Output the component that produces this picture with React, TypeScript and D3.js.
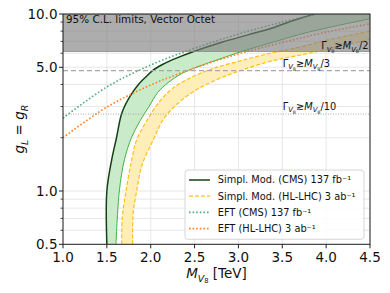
import React from "react";
import * as d3 from "d3";

// ---- data ----
const xTicks = [1.0, 1.5, 2.0, 2.5, 3.0, 3.5, 4.0, 4.5];
const yMajorTicks = [0.5, 1.0, 5.0, 10.0];
const yMinorTicks = [0.6, 0.7, 0.8, 0.9, 2, 3, 4, 6, 7, 8, 9];

// Simplified model (CMS) 137 fb^-1 : band edges
const cmsEdgeM = [1.5, 1.5, 1.555, 1.61, 1.67, 1.76, 1.86, 1.95, 2.02, 2.14, 2.3, 2.49, 2.8, 3.1, 3.36, 3.6, 3.87, 4.2, 4.5];
const cmsEdgeG = [0.5, 1.0, 1.5, 2.0, 2.75, 3.4, 4.0, 4.44, 4.79, 5.2, 5.65, 6.14, 6.9, 7.6, 8.25, 9.1, 10.0, 11.0, 11.8];
const cmsOuterM = [1.604, 1.642, 1.7, 1.78, 1.88, 1.98, 2.08, 2.2, 2.35, 2.52, 2.8, 3.02, 3.36, 3.8, 4.5];
const cmsOuterG = [0.5, 1.0, 1.5, 2.0, 2.5, 3.0, 3.6, 4.1, 4.6, 5.0, 5.6, 6.1, 6.85, 7.9, 9.4];

// Simplified model (HL-LHC) 3 ab^-1 : band edges
const hlEdgeM = [1.669, 1.675, 1.718, 1.783, 1.84, 1.96, 2.1, 2.25, 2.45, 2.7, 3.0, 3.36, 3.7, 4.0, 4.5];
const hlEdgeG = [0.5, 0.7, 1.0, 1.5, 1.95, 2.52, 3.2, 3.8, 4.35, 4.9, 5.4, 6.0, 6.5, 7.1, 8.0];
const hlOuterM = [1.794, 1.8, 1.84, 1.9, 2.03, 2.14, 2.3, 2.52, 2.75, 3.0, 3.36, 3.7, 4.0, 4.5];
const hlOuterG = [0.5, 0.75, 1.0, 1.4, 1.95, 2.52, 3.1, 3.73, 4.25, 4.75, 5.4, 5.85, 6.3, 7.2];

// EFT lines
const eftCmsM = [1.0, 1.5, 2.0, 2.5, 3.0, 3.5, 3.9];
const eftCmsG = [2.58, 3.87, 5.15, 6.4, 7.7, 9.0, 10.05];
const eftHlM = [1.0, 1.5, 2.0, 2.5, 3.0, 3.5, 4.0, 4.5];
const eftHlG = [2.0, 2.98, 3.97, 4.95, 5.95, 6.9, 7.9, 8.8];

// reference levels
const grayBandG = [6.14, 10.0];
const gammaThirdG = 4.79;
const gammaTenthG = 2.72;

const W = 390, H = 293;
const L = 63, R = 370, T = 14, B = 244.3;
const FONT = "DejaVu Sans, sans-serif";

const C = {
  dark: "#173f17",
  light: "#45b045",
  greenFill: "#c9ebc9",
  yellow: "#ffbf1a",
  yellowFill: "#ffeeb8",
  eftCms: "#4fb07e",
  eftHl: "#ff8124",
};

function pts(m: number[], g: number[]): [number, number][] {
  return m.map((v, i) => [v, g[i]]);
}

export default function App() {
  const x = d3.scaleLinear().domain([1, 4.5]).range([L, R]);
  const y = d3.scaleLog().domain([0.5, 10]).range([B, T]);
  const line = d3
    .line<[number, number]>()
    .x((d) => x(d[0]))
    .y((d) => y(d[1]))
    .curve(d3.curveCatmullRom.alpha(0.5));

  const band = (a: [number, number][], b: [number, number][]) => {
    const p1 = line(a) as string;
    const p2 = (line(b.slice().reverse()) as string).replace(/^M/, "L");
    return p1 + p2 + "Z";
  };

  const cmsA = pts(cmsEdgeM, cmsEdgeG);
  const cmsB = pts(cmsOuterM, cmsOuterG);
  const hlA = pts(hlEdgeM, hlEdgeG);
  const hlB = pts(hlOuterM, hlOuterG);
  const eftC = pts(eftCmsM, eftCmsG);
  const eftH = pts(eftHlM, eftHlG);

  const sub = (t: string, fs: number) => (
    <>
      <tspan dy={fs * 0.28} fontSize={fs * 0.7} fontStyle="italic">V</tspan>
      <tspan dy={fs * 0.15} fontSize={fs * 0.5}>8</tspan>
      <tspan dy={-fs * 0.43}>{t}</tspan>
    </>
  );
  const gammaLabel = (frac: string, fs: number) => (
    <>
      <tspan>Γ</tspan>
      {sub("≳", fs)}
      <tspan fontStyle="italic">M</tspan>
      {sub("/" + frac, fs)}
    </>
  );

  const legendItems = [
    { label: "Simpl. Mod. (CMS) 137 fb⁻¹", color: C.dark, dash: "", w: 1.5 },
    { label: "Simpl. Mod. (HL-LHC) 3 ab⁻¹", color: C.yellow, dash: "4,2", w: 1.3 },
    { label: "EFT (CMS) 137 fb⁻¹", color: C.eftCms, dash: "1.6,2", w: 1.6 },
    { label: "EFT (HL-LHC) 3 ab⁻¹", color: C.eftHl, dash: "1.6,2", w: 1.6 },
  ];

  const tfs = 13.5;
  const fs = 9.8;

  return (
    <svg width={W} height={H} style={{ position: "absolute", left: 0, top: 0 }} fontFamily={FONT}>
      <defs>
        <clipPath id="plot">
          <rect x={L} y={T} width={R - L} height={B - T} />
        </clipPath>
      </defs>
      <rect x={0} y={0} width={W} height={H} fill="#fff" />
      {/* grid */}
      <g stroke="#e4e4e4" strokeWidth={0.9}>
        {xTicks.map((t) => (
          <line key={"gx" + t} x1={x(t)} x2={x(t)} y1={T} y2={B} />
        ))}
        {[...yMajorTicks, ...yMinorTicks].map((t) => (
          <line key={"gy" + t} x1={L} x2={R} y1={y(t)} y2={y(t)} />
        ))}
      </g>
      <g clipPath="url(#plot)">
        {/* bands */}
        <path d={band(cmsA, cmsB)} fill={C.greenFill} stroke="none" />
        <path d={band(hlA, hlB)} fill={C.yellowFill} stroke="none" />
        {/* band edges */}
        <path d={line(cmsB) as string} fill="none" stroke={C.light} strokeWidth={1} />
        <path d={line(hlA) as string} fill="none" stroke={C.yellow} strokeWidth={1.2} strokeDasharray="4,2" />
        <path d={line(hlB) as string} fill="none" stroke={C.yellow} strokeWidth={1.2} strokeDasharray="4,2" />
        <path d={line(cmsA) as string} fill="none" stroke={C.dark} strokeWidth={1.5} />
        {/* EFT */}
        <path d={line(eftC) as string} fill="none" stroke={C.eftCms} strokeWidth={1.6} strokeDasharray="1.6,2" />
        <path d={line(eftH) as string} fill="none" stroke={C.eftHl} strokeWidth={1.6} strokeDasharray="1.6,2" />
        {/* Gamma reference lines */}
        <line x1={L} x2={R} y1={y(gammaThirdG)} y2={y(gammaThirdG)} stroke="#a8a8a8" strokeWidth={1.4} strokeDasharray="5,3" />
        <line x1={L} x2={R} y1={y(gammaTenthG)} y2={y(gammaTenthG)} stroke="#a0a0a0" strokeWidth={0.9} strokeDasharray="1,1.5" />
        {/* gray excluded band */}
        <rect
          x={L}
          y={y(grayBandG[1])}
          width={R - L}
          height={y(grayBandG[0]) - y(grayBandG[1])}
          fill="#7d7d7d"
          fillOpacity={0.63}
          stroke="#8a8a8a"
          strokeWidth={0.8}
        />
      </g>
      {/* annotations */}
      <text x={66} y={22.5} fontSize={10.4} fill="#111">95% C.L. limits, Vector Octet</text>
      <text x={368.5} y={49} fontSize={fs} fill="#111" textAnchor="end">{gammaLabel("2", fs)}</text>
      <text x={282.7} y={66.5} fontSize={fs} fill="#111">{gammaLabel("3", fs)}</text>
      <text x={282.7} y={109.5} fontSize={fs} fill="#111">{gammaLabel("10", fs)}</text>

      {/* axes frame */}
      <rect x={L} y={T} width={R - L} height={B - T} fill="none" stroke="#222" strokeWidth={1} />
      {/* x ticks */}
      {xTicks.map((t) => (
        <g key={"xt" + t}>
          <line x1={x(t)} x2={x(t)} y1={B} y2={B + 4} stroke="#222" strokeWidth={1} />
          <text x={x(t)} y={261.5} fontSize={tfs} textAnchor="middle" fill="#111">{t.toFixed(1)}</text>
        </g>
      ))}
      {/* y ticks */}
      {yMajorTicks.map((t) => (
        <g key={"yt" + t}>
          <line x1={L - 4} x2={L} y1={y(t)} y2={y(t)} stroke="#222" strokeWidth={1} />
          <text x={57.5} y={y(t) + 4.9} fontSize={tfs} textAnchor="end" fill="#111">{t.toFixed(1)}</text>
        </g>
      ))}
      {yMinorTicks.map((t) => (
        <line key={"ym" + t} x1={L - 2.5} x2={L} y1={y(t)} y2={y(t)} stroke="#222" strokeWidth={0.8} />
      ))}
      {/* axis labels */}
      <text x={216.5} y={278} fontSize={tfs} textAnchor="middle" fill="#111">
        <tspan fontStyle="italic">M</tspan>
        <tspan dy={3.5} fontSize={tfs * 0.7} fontStyle="italic">V</tspan>
        <tspan dy={1.8} fontSize={tfs * 0.5}>8</tspan>
        <tspan dy={-5.3}> [TeV]</tspan>
      </text>
      <text transform={`translate(24,${(T + B) / 2}) rotate(-90)`} fontSize={tfs} textAnchor="middle" fill="#111">
        <tspan fontStyle="italic">g</tspan>
        <tspan dy={3.5} fontSize={tfs * 0.7} fontStyle="italic">L</tspan>
        <tspan dy={-3.5}> = </tspan>
        <tspan fontStyle="italic">g</tspan>
        <tspan dy={3.5} fontSize={tfs * 0.7} fontStyle="italic">R</tspan>
      </text>

      {/* legend */}
      <rect x={185} y={170} width={179} height={69.3} rx={3} fill="#fff" fillOpacity={0.85} stroke="#cccccc" strokeWidth={0.8} />
      {legendItems.map((it, i) => {
        const cy = 180 + i * 16.2;
        return (
          <g key={it.label}>
            <line x1={189} x2={210} y1={cy} y2={cy} stroke={it.color} strokeWidth={it.w} strokeDasharray={it.dash || undefined} />
            <text x={217.7} y={cy + 3.4} fontSize={fs} fill="#111">{it.label}</text>
          </g>
        );
      })}
    </svg>
  );
}
